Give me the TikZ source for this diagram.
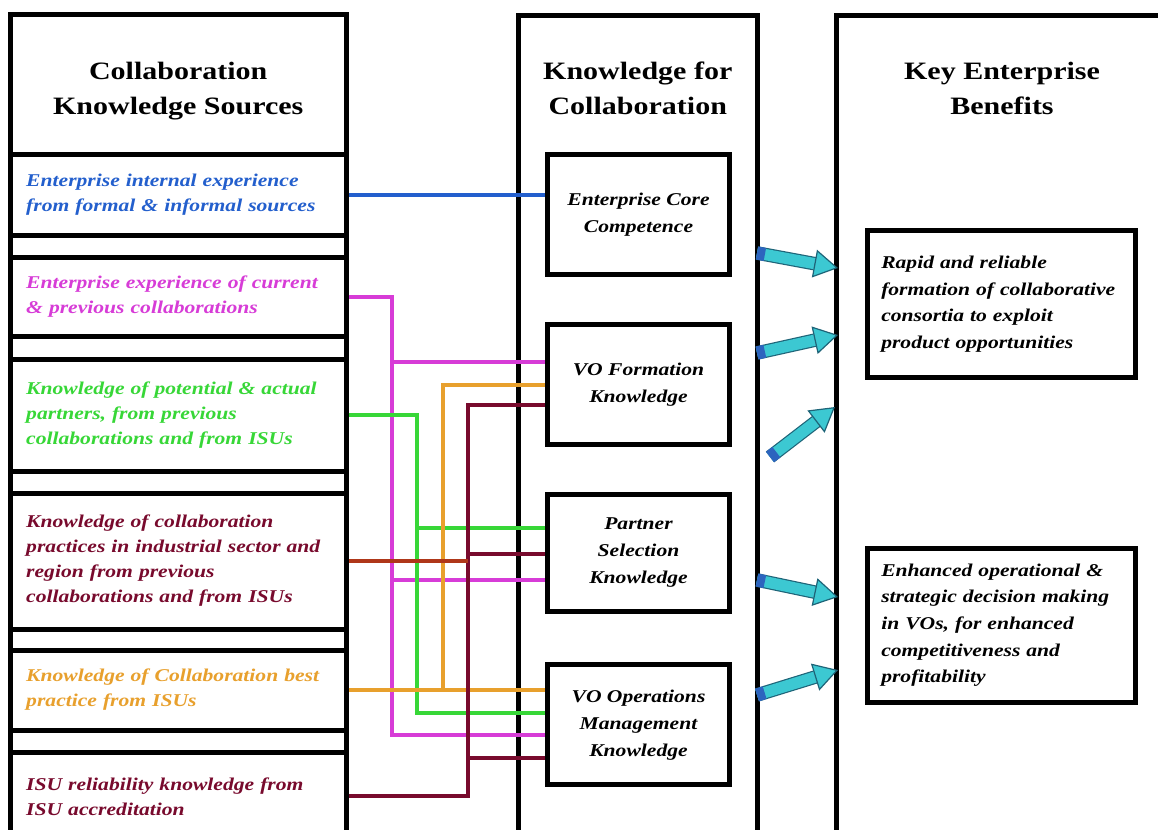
\documentclass[tikz,border=0pt]{standalone}
\usepackage{fontspec}
\setmainfont{Liberation Serif}[FakeStretch=1.2]
\usetikzlibrary{arrows.meta,calc}

\definecolor{srcblue}{RGB}{35,95,205}
\definecolor{srcmag}{RGB}{215,60,215}
\definecolor{srcgreen}{RGB}{55,215,55}
\definecolor{srcmaroon}{RGB}{120,10,45}
\definecolor{srcorange}{RGB}{232,160,45}
\definecolor{srcrust}{RGB}{175,55,25}
\definecolor{arrowfill}{RGB}{60,200,210}
\definecolor{arrowedge}{RGB}{30,100,120}
\definecolor{arrowtail}{RGB}{45,100,190}

\begin{document}
\begin{tikzpicture}[x=0.5pt, y=-0.5pt, every node/.style={align=center}, >=stealth]
    % styles
    \tikzstyle{frame} = [draw=black, line width=2.5pt]
    \tikzstyle{source} = [rectangle, draw=black, line width=2.5pt, fill=white, minimum width=167.75pt, text width=152pt, align=left, font=\fontsize{9}{12.5}\selectfont\bfseries\itshape]
    \tikzstyle{heading} = [font=\fontsize{12.5}{17.5}\selectfont\bfseries]
    \tikzstyle{know} = [rectangle, draw=black, line width=2.5pt, fill=white, minimum width=91pt, minimum height=60pt, font=\fontsize{9}{13.5}\selectfont\bfseries\itshape]
    \tikzstyle{benefit} = [rectangle, draw=black, line width=2.5pt, fill=white, minimum width=134.25pt, text width=120pt, align=left, font=\fontsize{9}{13.3}\selectfont\bfseries\itshape]
    \tikzstyle{link} = [line width=2pt]
    \tikzstyle{bigarrow} = [draw=arrowedge, line width=0.6pt, double=arrowfill, double distance=5.6pt, -{Triangle[length=12pt, width=14pt, fill=arrowfill, line width=0.6pt]}]
    \tikzstyle{arrowstub} = [draw=arrowtail, line width=6.6pt]

    \clip (0,0) rectangle (1158,830);

    % column frames
    \draw[frame] (10.5,14.5) rectangle (346,900);
    \draw[frame] (518,15.5) rectangle (757.5,900);
    \draw[frame] (836,15.5) rectangle (1250,900);

    % headings
    \node[source, minimum height=70pt] (srchead) at (178.25,84.5) {};
    \node[heading] (srctitle) at (178.25,91) {Collaboration\\Knowledge Sources};
    \node[heading] (knowhead) at (637.75,88) {Knowledge for\\Collaboration};
    \node[heading] (benehead) at (1002,88) {Key Enterprise\\Benefits};

    % knowledge sources
    \node[source, minimum height=40.25pt, text=srcblue] (src1) at (178.25,194.75) {Enterprise internal experience\\from formal \& informal sources};
    \node[source, minimum height=39.5pt, text=srcmag] (src2) at (178.25,297) {Enterprise experience of current\\\& previous collaborations};
    \node[source, minimum height=55.75pt, text=srcgreen] (src3) at (178.25,415.25) {Knowledge of potential \& actual\\partners, from previous\\collaborations and from ISUs};
    \node[source, minimum height=68pt, text=srcmaroon] (src4) at (178.25,561) {Knowledge of collaboration\\practices in industrial sector and\\region from previous\\collaborations and from ISUs};
    \node[source, minimum height=40pt, text=srcorange] (src5) at (178.25,690) {Knowledge of Collaboration best\\practice from ISUs};
    \node[source, minimum height=43.75pt, text=srcmaroon] (src6) at (178.25,796.25) {ISU reliability knowledge from\\ISU accreditation};

    % knowledge for collaboration
    \node[know] (core) at (638.5,214.5) {Enterprise Core\\Competence};
    \node[know] (form) at (638.5,384.5) {VO Formation\\Knowledge};
    \node[know, minimum height=58.5pt] (partner) at (638.5,553) {Partner\\Selection\\Knowledge};
    \node[know] (oper) at (638.5,724.75) {VO Operations\\Management\\Knowledge};

    % benefits
    \node[benefit, minimum height=73.5pt] (rapid) at (1001.25,304) {Rapid and reliable\\formation of collaborative\\consortia to exploit\\product opportunities};
    \node[benefit, minimum height=77.25pt] (enhanced) at (1001.25,625.25) {Enhanced operational \&\\strategic decision making\\in VOs, for enhanced\\competitiveness and\\profitability};

    % bus points
    \coordinate (magB) at (392,362);
    \coordinate (magC) at (392,580);
    \coordinate (magD) at (392,735);
    \coordinate (grnC) at (417,528);
    \coordinate (grnD) at (417,713);
    \coordinate (orgB) at (443,385);
    \coordinate (marB) at (468,405);
    \coordinate (marC) at (468,554);
    \coordinate (marD) at (468,758);

    % links
    \draw[link, srcblue] (src1.east) -- (src1.east -| core.west);
    \draw[link, srcmag] (src2.east) -| (magD) -- (magD -| oper.west);
    \draw[link, srcmag] (magB) -- (magB -| form.west);
    \draw[link, srcmag] (magC) -- (magC -| partner.west);
    \draw[link, srcgreen] (src3.east) -| (grnD) -- (grnD -| oper.west);
    \draw[link, srcgreen] (grnC) -- (grnC -| partner.west);
    \draw[link, srcorange] (src5.east) -- (src5.east -| oper.west);
    \draw[link, srcorange] (src5.east -| orgB) -- (orgB) -- (orgB -| form.west);
    \draw[link, srcmaroon] (src6.east) -| (marB) -- (marB -| form.west);
    \draw[link, srcmaroon] (marC) -- (marC -| partner.west);
    \draw[link, srcmaroon] (marD) -- (marD -| oper.west);
    \draw[link, srcrust] (src4.east) -- (src4.east -| marB);

    % benefit arrows
    \coordinate (t1) at (757,253);  \coordinate (h1) at (838,268);
    \coordinate (t2) at (757,353);  \coordinate (h2) at (838,335);
    \coordinate (t3) at (770,457);  \coordinate (h3) at (835,407);
    \coordinate (t4) at (757,580);  \coordinate (h4) at (838,597);
    \coordinate (t5) at (757,695);  \coordinate (h5) at (838,670);
    \foreach \i in {1,...,5} {
        \draw[bigarrow] (t\i) -- (h\i);
        \draw[arrowstub] (t\i) -- ($(t\i)!4pt!(h\i)$);
    }
\end{tikzpicture}
\end{document}
